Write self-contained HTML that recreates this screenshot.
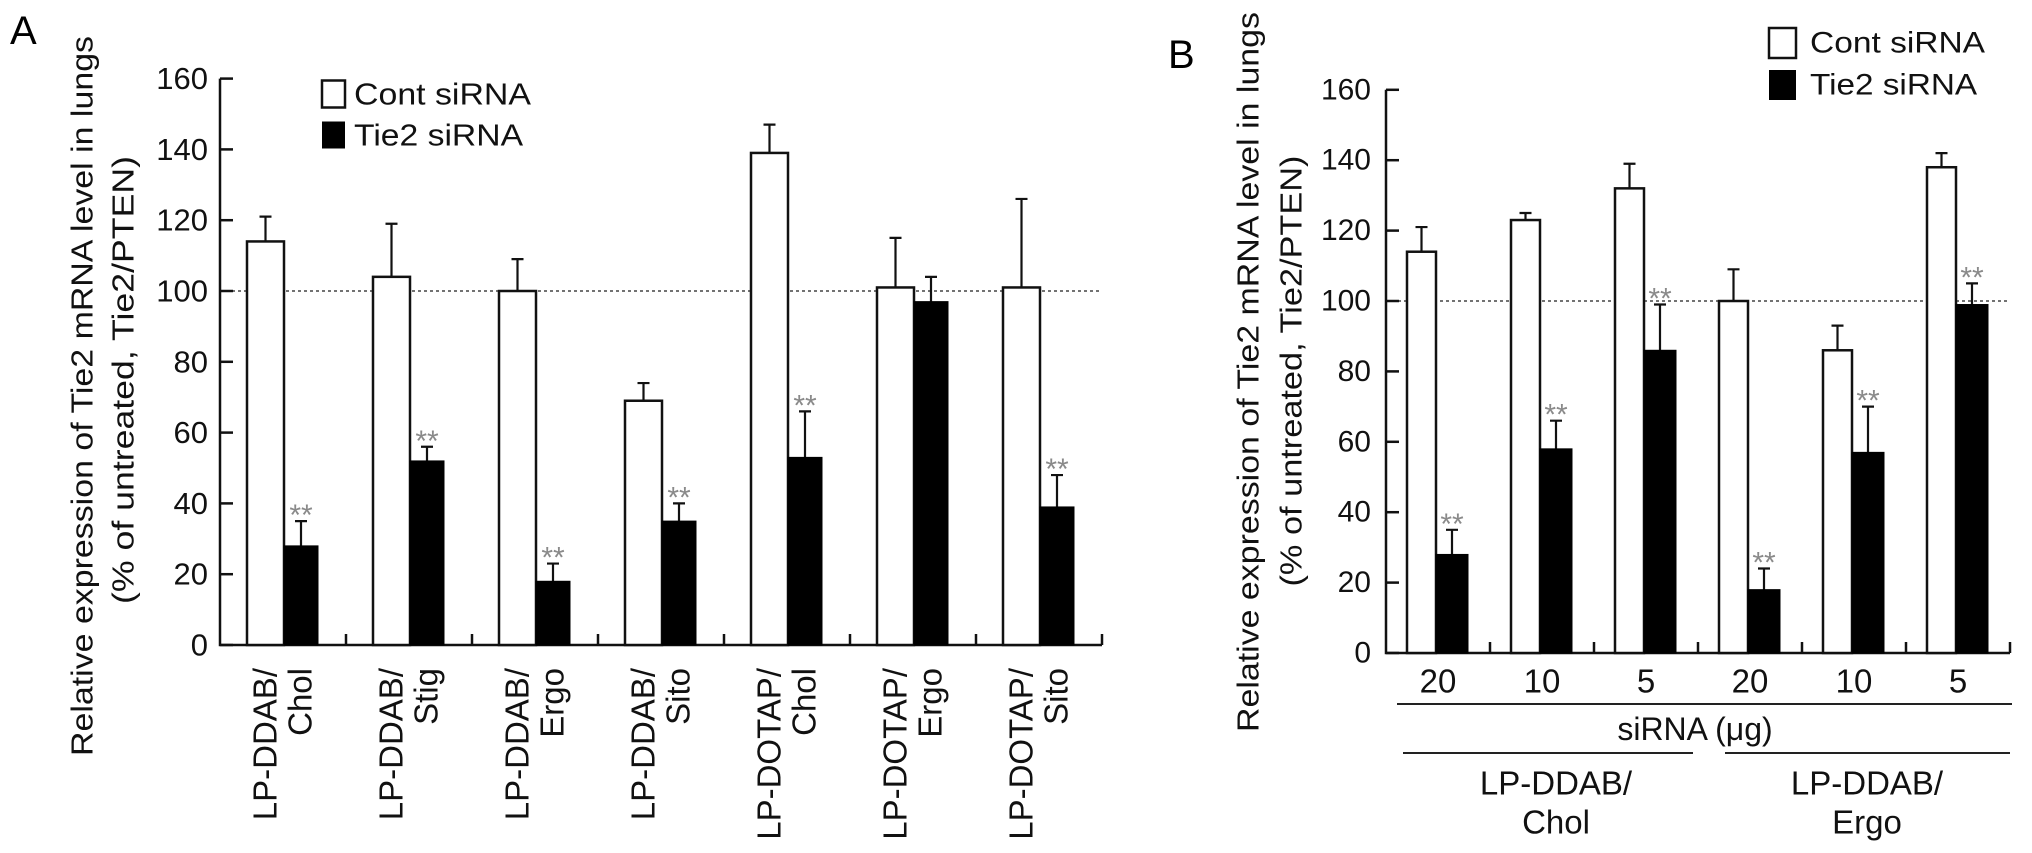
<!DOCTYPE html>
<html><head><meta charset="utf-8"><style>
html,body{margin:0;padding:0;background:#fff;}
svg{display:block;font-family:"Liberation Sans",Arial,sans-serif;}
</style></head><body>
<svg id="fig" width="2032" height="853" viewBox="0 0 2032 853" xmlns="http://www.w3.org/2000/svg">
<text x="10" y="44" font-size="40">A</text>
<text x="1168" y="68" font-size="40">B</text>
<g id="pa"></g>
<g id="pb"></g>
</svg>
<script>
const NS="http://www.w3.org/2000/svg";
// Panel A data
const catsA=[["LP-DDAB/","Chol"],["LP-DDAB/","Stig"],["LP-DDAB/","Ergo"],["LP-DDAB/","Sito"],["LP-DOTAP/","Chol"],["LP-DOTAP/","Ergo"],["LP-DOTAP/","Sito"]];
const contA=[114,104,100,69,139,101,101];
const contErrA=[7,15,9,5,8,14,25];
const tieA=[28,52,18,35,53,97,39];
const tieErrA=[7,4,5,5,13,7,9];
const starA=[true,true,true,true,true,false,true];
// Panel B data
const catsB=["20","10","5","20","10","5"];
const contB=[114,123,132,100,86,138];
const contErrB=[7,2,7,9,7,4];
const tieB=[28,58,86,18,57,99];
const tieErrB=[7,8,13,6,13,6];
const starB=[true,true,true,true,true,true];
const yTicks=[0,20,40,60,80,100,120,140,160];

function el(tag,attrs,parent,text){const e=document.createElementNS(NS,tag);for(const k in attrs)e.setAttribute(k,attrs[k]);if(text!==undefined)e.textContent=text;parent.appendChild(e);return e;}

function drawPanel(g,cfg,cats,cont,contErr,tie,tieErr,stars){
  const y=v=>cfg.y0-v*cfg.k;
  const xg=i=>cfg.x0+i*cfg.pitch;
  const xEnd=xg(cats.length);
  // dotted 100 line
  let l=el('line',{x1:cfg.x0,x2:xEnd,y1:y(100),y2:y(100),stroke:'#444','stroke-width':1.5,'stroke-dasharray':'3,3'},g);
  
  
  // axes
  let ax=el('path',{d:`M${cfg.x0},${y(160)} V${cfg.y0} H${xEnd}`,fill:'none',stroke:'#111','stroke-width':2.5},g);
  
  
  yTicks.forEach(t=>{
    let tk=el('line',{x1:cfg.x0,x2:cfg.x0+13,y1:y(t),y2:y(t),stroke:'#111','stroke-width':2.5},g);
    
    
    let tl=el('text',{x:cfg.tickRight,y:y(t),'font-size':cfg.tickFs,'text-anchor':'end','dominant-baseline':'central',fill:'#111'},g,String(t));
    
    
  });
  for(let i=1;i<=cats.length;i++){
    let st=el('line',{x1:xg(i),x2:xg(i),y1:cfg.y0,y2:cfg.y0-11,stroke:'#111','stroke-width':2.5},g);
    
    
  }
  cats.forEach((c,i)=>{
    const cx=xg(i)+cfg.cOff, tx=xg(i)+cfg.tOff;
    // error bars
    [[cx,cfg.cW,cont[i],contErr[i],'cont'],[tx,cfg.tW,tie[i],tieErr[i],'tie2']].forEach(([bx,bw,v,e,nm])=>{
      const mx=bx+bw/2;
      let eb=el('path',{d:`M${mx},${y(v)} V${y(v+e)} M${mx-6},${y(v+e)} H${mx+6}`,stroke:'#111','stroke-width':2.2,fill:'none'},g);
      
      
    });
    let b1=el('rect',{x:cx,y:y(cont[i]),width:cfg.cW,height:cont[i]*cfg.k,fill:'#fff',stroke:'#111','stroke-width':2.5},g);
    
    
    let b2=el('rect',{x:tx,y:y(tie[i]),width:cfg.tW,height:tie[i]*cfg.k,fill:'#000',stroke:'#000','stroke-width':1},g);
    
    
    if(stars[i]){
      let s=el('text',{x:tx+cfg.tW/2,y:y(tie[i]+tieErr[i])+4,'font-size':30,'text-anchor':'middle',fill:'#8a8a8a'},g,'**');
      
      
    }
  });
  return {y,xg,xEnd};
}

// Panel A
const ga=document.getElementById('pa');
const cfgA={x0:220,pitch:126,cOff:27,cW:37,tOff:64,tW:34,y0:645,k:3.54,tickRight:208,tickFs:31};
const A=drawPanel(ga,cfgA,catsA,contA,contErrA,tieA,tieErrA,starA);
catsA.forEach((c,i)=>{
  const cxm=A.xg(i)+63;
  [[c[0],cxm-18],[c[1],cxm+17]].forEach(([t,x])=>{
    let tx=el('text',{x:x,y:668,'font-size':33,'text-anchor':'end','dominant-baseline':'central',transform:`rotate(-90 ${x} 668)`,fill:'#111'},ga,t);
    
    
  });
});
// legend A
function legend(g,x,y1,y2,bw,bh,tx,fs,len){
  let r1=el('rect',{x:x,y:y1-bh/2,width:bw,height:bh,fill:'#fff',stroke:'#111','stroke-width':2.5},g);
  
  
  let t1=el('text',{x:tx,y:y1,'font-size':fs,'dominant-baseline':'central',textLength:len,lengthAdjust:'spacingAndGlyphs',fill:'#111'},g,'Cont siRNA');
  
  
  let r2=el('rect',{x:x,y:y2-bh/2,width:bw,height:bh,fill:'#000'},g);
  
  
  let t2=el('text',{x:tx,y:y2,'font-size':fs,'dominant-baseline':'central',textLength:len*0.955,lengthAdjust:'spacingAndGlyphs',fill:'#111'},g,'Tie2 siRNA');
  
  
}
legend(ga,322,94,135,23,27,354,31,177);
// y titles A
function ytitle(g,x1,c1,x2,c2,len1,len2){
  let a=el('text',{x:x1,y:c1,'font-size':31,'text-anchor':'middle','dominant-baseline':'central',transform:`rotate(-90 ${x1} ${c1})`,textLength:len1,lengthAdjust:'spacingAndGlyphs',fill:'#111'},g,'Relative expression of Tie2 mRNA level in lungs');
  
  
  let b=el('text',{x:x2,y:c2,'font-size':31,'text-anchor':'middle','dominant-baseline':'central',transform:`rotate(-90 ${x2} ${c2})`,textLength:len2,lengthAdjust:'spacingAndGlyphs',fill:'#111'},g,'(% of untreated, Tie2/PTEN)');
  
  
}
ytitle(ga,82,396,123,380,720,448);

// Panel B
const gb=document.getElementById('pb');
const cfgB={x0:1386,pitch:104,cOff:21,cW:29,tOff:50,tW:32,y0:653,k:3.52,tickRight:1371,tickFs:30};
const B=drawPanel(gb,cfgB,catsB,contB,contErrB,tieB,tieErrB,starB);
catsB.forEach((c,i)=>{
  let t=el('text',{x:B.xg(i)+52,y:681,'font-size':33,'text-anchor':'middle','dominant-baseline':'central',fill:'#111'},gb,c);
  
  
});
function hline(g,x1,x2,yy,name){let l=el('line',{x1:x1,x2:x2,y1:yy,y2:yy,stroke:'#222','stroke-width':2},g);}
hline(gb,1397,2012,704,'sirna-bracket-line');
let st=el('text',{x:1695,y:729,'font-size':32,'text-anchor':'middle','dominant-baseline':'central',fill:'#111'},gb,'siRNA (\u03bcg)');


hline(gb,1403,1693,753,'chol-group-line');
hline(gb,1725,2010,753,'ergo-group-line');
[[1556,'LP-DDAB/',783],[1556,'Chol',822],[1867,'LP-DDAB/',783],[1867,'Ergo',822]].forEach(([x,t,yy])=>{
  let e=el('text',{x:x,y:yy,'font-size':33,'text-anchor':'middle','dominant-baseline':'central',fill:'#111'},gb,t);
  
  
});
legend(gb,1769,43,85,27,30,1810,30,175);
ytitle(gb,1248,372,1291,371,720,431);
</script>
</body></html>
